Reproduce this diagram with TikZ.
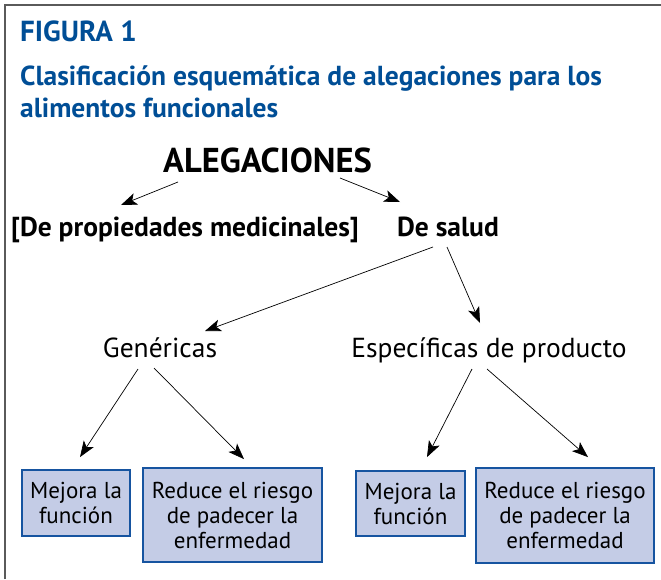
\documentclass[tikz,border=0pt]{standalone}
\usepackage{fontspec}
\setmainfont{PT Sans}
\usetikzlibrary{calc,arrows.meta}
\definecolor{tblue}{RGB}{0,78,150}
\definecolor{bxline}{RGB}{22,84,160}
\definecolor{bxfill}{RGB}{196,204,230}
\definecolor{fgray}{RGB}{90,90,90}
\newcommand{\bfs}{\fontsize{27.5}{33}\selectfont}
\newcommand{\bxs}{\fontsize{23}{25}\selectfont}
\tikzset{
  hdr/.style={anchor=base west,inner sep=0pt,text=tblue,font=\bfs\bfseries},
  lvl/.style={anchor=base,inner sep=0pt,font=\bfs},
  bx/.style={draw=bxline,line width=1.8pt,fill=bxfill,inner sep=0pt,
             align=center,font=\bxs},
  arr/.style={-{Stealth[length=16pt,width=12pt,inset=4pt]},line width=0.7pt}
}
\begin{document}
\begin{tikzpicture}[x=1pt,y=-1pt]
\useasboundingbox (0,0) rectangle (661,579);

% frame, top and left only
\draw[fgray,line width=2pt] (4.5,579) -- (4.5,4.5) -- (661,4.5);

% title
\node[hdr,font=\fontsize{29}{33}\selectfont\bfseries] (fig) at (20,41) {FIGURA 1};
\node[hdr] (tit1) at (20,85) {Clasificación esquemática de alegaciones para los};
\node[hdr] (tit2) at (20,117) {alimentos funcionales};

% top levels
\node[lvl,font=\fontsize{34.5}{38}\selectfont\bfseries] (aleg) at (267.5,172) {ALEGACIONES};
\node[lvl,font=\bfs\bfseries] (prop) at (185,236) {[De propiedades medicinales]};
\node[lvl,font=\bfs\bfseries] (salud) at (448,236) {De salud};

\node[lvl] (gen) at (160,357) {Genéricas};
\node[lvl] (esp) at (489,357) {Específicas de producto};

% boxes
\node[bx,minimum width=108pt,minimum height=66pt] (mej1) at (76,503)
  {Mejora la\\función};
\node[bx,minimum width=179pt,minimum height=94pt] (red1) at (232.5,515)
  {Reduce el riesgo\\de padecer la\\enfermedad};
\node[bx,minimum width=109pt,minimum height=65pt] (mej2) at (410.5,503.5)
  {Mejora la\\función};
\node[bx,minimum width=178pt,minimum height=95pt] (red2) at (565,515.5)
  {Reduce el riesgo\\de padecer la\\enfermedad};

% arrows
\draw[arr] ($(aleg.base)+(-89.5,10)$) -- ($(prop.base)+(-64,-31)$);
\draw[arr] ($(aleg.base)+(72.5,6)$) -- ($(salud.base)+(-48,-34)$);
\draw[arr] ($(salud.base)+(-15,11)$) -- ($(gen.base)+(45,-26)$);
\draw[arr] ($(salud.base)+(-1,11)$) -- ($(esp.base)+(-9,-34)$);

\draw[arr] ($(gen.base)+(-22,12)$) -- ($(mej1.north)+(4,-12)$);
\draw[arr] ($(gen.base)+(-6,11)$) -- ($(red1.north)+(11.5,-8)$);
\draw[arr] ($(esp.base)+(-17,12)$) -- ($(mej2.north)+(16.5,-13)$);
\draw[arr] ($(esp.base)+(-2,12)$) -- ($(red2.north)+(23,-10)$);
\end{tikzpicture}
\end{document}
